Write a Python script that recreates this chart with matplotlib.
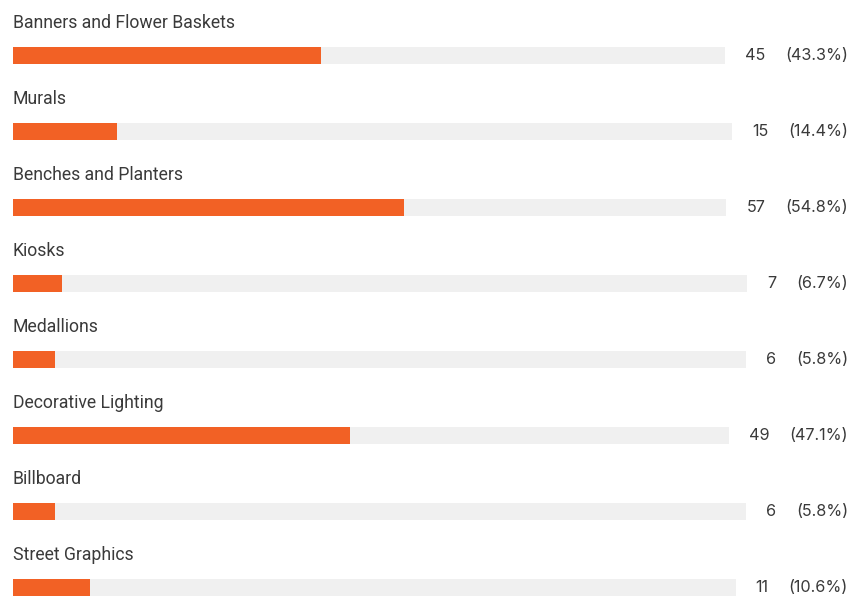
import matplotlib
matplotlib.use("Agg")
import matplotlib.pyplot as plt

categories = ["Banners and Flower Baskets", "Murals", "Benches and Planters", "Kiosks",
              "Medallions", "Decorative Lighting", "Billboard", "Street Graphics"]
counts = [45, 15, 57, 7, 6, 49, 6, 11]
percents = [43.3, 14.4, 54.8, 6.7, 5.8, 47.1, 5.8, 10.6]

ORANGE = "#F26125"
TRACK = "#F0F0F0"
TEXT = "#3a3a3a"
FONT = ["Roboto", "DejaVu Sans"]
NUMFONT = ["Inter", "DejaVu Sans"]

W, H = 854, 602
fig = plt.figure(figsize=(W / 100, H / 100), dpi=100)
ax = fig.add_axes([0, 0, 1, 1])
ax.set_xlim(0, W)
row_px = 76.0
first_px = 55.5
ax.set_ylim((H - first_px) / row_px, -first_px / row_px)
ax.axis("off")

renderer = fig.canvas.get_renderer()

def width_px(t):
    return t.get_window_extent(renderer=renderer).width

x0 = 13
right = 848
bar_h = 17 / row_px
for i, (cat, c, p) in enumerate(zip(categories, counts, percents)):
    ax.text(x0, i - 33 / row_px, cat, fontsize=12.7, family=FONT, color=TEXT,
            va="center", ha="left")
    tp = ax.text(right, i, f"({p:.1f}%)", fontsize=11.7, family=NUMFONT, color=TEXT,
                 va="center", ha="right")
    wp = width_px(tp)
    cx = right - wp - 20
    tc = ax.text(cx, i, f"{c}", fontsize=11.7, family=NUMFONT, color=TEXT,
                 va="center", ha="right")
    wc = width_px(tc)
    track_end = cx - wc - 20
    track_len = track_end - x0
    ax.barh(i, track_len, left=x0, height=bar_h, color=TRACK, linewidth=0)
    ax.barh(i, track_len * p / 100.0, left=x0, height=bar_h, color=ORANGE, linewidth=0)

fig.savefig("out.png", dpi=100, facecolor="white")
